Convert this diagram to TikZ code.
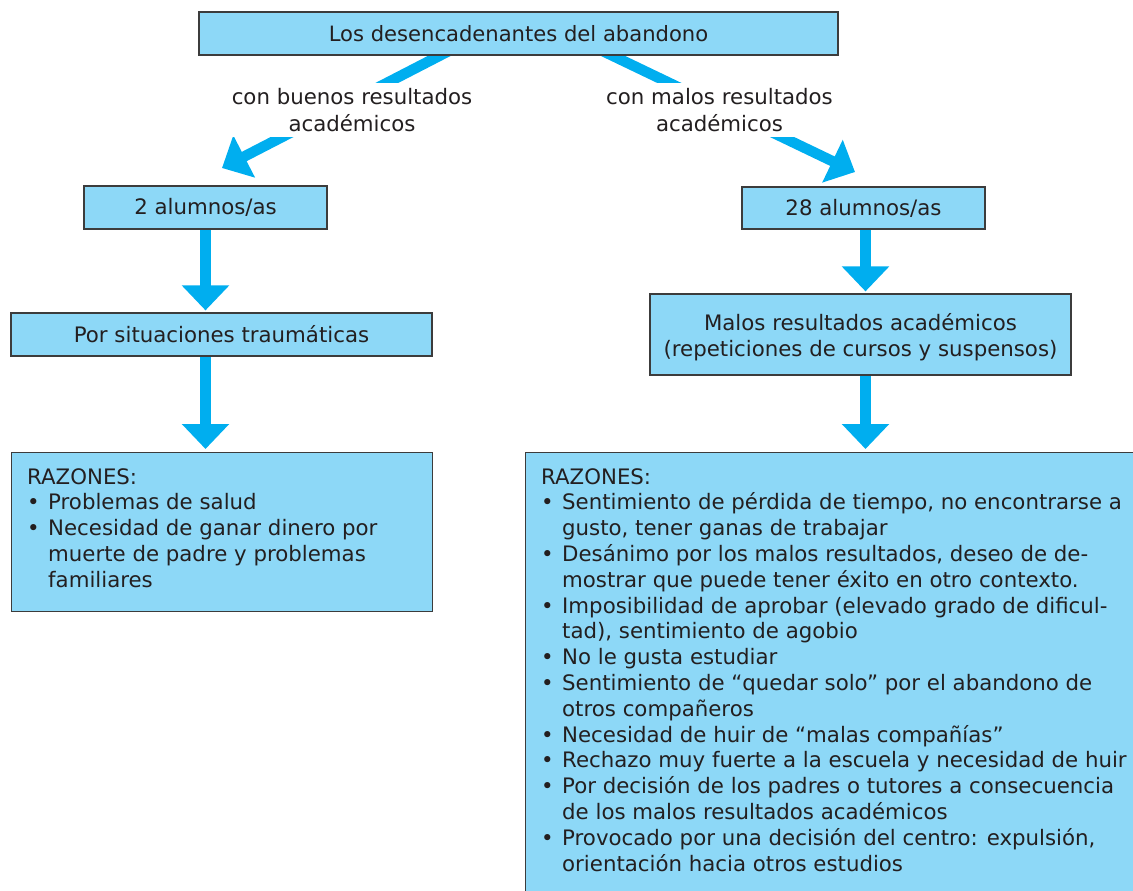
\documentclass[tikz,border=0pt]{standalone}
\usepackage{fontspec}
\setmainfont{DejaVu Sans}
\usetikzlibrary{arrows.meta,backgrounds}
\definecolor{boxfill}{HTML}{8DD8F7}
\definecolor{arrowblue}{HTML}{00AEEF}
\definecolor{boxline}{HTML}{3C3C3C}
\definecolor{txt}{HTML}{231F20}
\newcommand\bul{\makebox[21pt][l]{•}}
\newcommand\ind{\hspace*{21pt}}
\begin{document}
\begin{tikzpicture}[x=1pt,y=-1pt,
  every node/.style={font=\fontsize{21.3pt}{25.8pt}\selectfont, text=txt},
  box/.style={draw=boxline, fill=boxfill, line width=1.2pt, inner sep=0pt},
  arr/.style={draw=arrowblue, line width=10.5pt, -{Triangle[length=25pt,width=46pt]}},
  lbl/.style={fill=white, align=center, inner xsep=4pt, inner ysep=6pt, font=\fontsize{21.3pt}{26.4pt}\selectfont},
  lst/.style={align=left, anchor=base west, inner sep=0pt}]
\useasboundingbox (0,0) rectangle (1133,891);
\clip (0,0) rectangle (1133,891);

% boxes
\node[box, minimum width=639pt, minimum height=43pt, font=\fontsize{21.1pt}{25.8pt}\selectfont] (top) at (518.5,33.5) {Los desencadenantes del abandono};
\node[box, minimum width=243pt, minimum height=43pt] (two) at (205.5,207.5) {2 alumnos/as};
\node[box, minimum width=243pt, minimum height=42pt] (tw8) at (863.5,208) {28 alumnos/as};
\node[box, minimum width=421pt, minimum height=43pt] (por) at (221.5,334.5) {Por situaciones traumáticas};
\node[box, minimum width=421pt, minimum height=81pt, align=center, font=\fontsize{21.3pt}{26.2pt}\selectfont] (malos) at (860.5,334.5) {\rule{0pt}{22pt}Malos resultados académicos\\(repeticiones de cursos y suspensos)};
\node[box, minimum width=421pt, minimum height=159pt, anchor=north west] (razL) at (11,452) {};
\node[box, minimum width=700pt, minimum height=500pt, anchor=north west] (razR) at (525,452) {};

% box texts (anchored at the baseline of their last line)
\node[lst] (razLt) at (27,587.2) {RAZONES:\\
\bul Problemas de salud\\
\bul Necesidad de ganar dinero por\\
\ind muerte de padre y problemas\\
\ind familiares};
\node[lst] (razRt) at (541,871) {RAZONES:\\
\bul Sentimiento de pérdida de tiempo, no encontrarse a\\
\ind gusto, tener ganas de trabajar\\
\bul Desánimo por los malos resultados, deseo de de-\\
\ind mostrar que puede tener éxito en otro contexto.\\
\bul Imposibilidad de aprobar (elevado grado de dificul-\\
\ind tad), sentimiento de agobio\\
\bul No le gusta estudiar\\
\bul Sentimiento de “quedar solo” por el abandono de\\
\ind otros compañeros\\
\bul Necesidad de huir de “malas compañías”\\
\bul Rechazo muy fuerte a la escuela y necesidad de huir\\
\bul Por decisión de los padres o tutores a consecuencia\\
\ind de los malos resultados académicos\\
\bul Provocado por una decisión del centro: expulsión,\\
\ind orientación hacia otros estudios};

% labels
\node[lbl] (lb1) at (352,110) {con buenos resultados\\académicos};
\node[lbl] (lb2) at (719.5,110) {con malos resultados\\académicos};

% arrows
\begin{scope}[on background layer]
\coordinate (sL) at (460.4,45);
\coordinate (tL) at (222,168);
\coordinate (sR) at (590.2,45);
\coordinate (tR) at (855,172);
\draw[arr] (sL) -- (tL);
\draw[arr] (sR) -- (tR);
\draw[arr, shorten >=2pt] (two.south) -- (two.south |- por.north);
\draw[arr, shorten >=3pt] (two.south |- por.south) -- (two.south |- razL.north);
\draw[arr, shorten >=2pt] ([xshift=2pt]tw8.south) -- ([xshift=2pt]tw8.south |- malos.north);
\draw[arr, shorten >=3pt] ([xshift=2pt]tw8.south |- malos.south) -- ([xshift=2pt]tw8.south |- razR.north);
\end{scope}
\end{tikzpicture}
\end{document}
